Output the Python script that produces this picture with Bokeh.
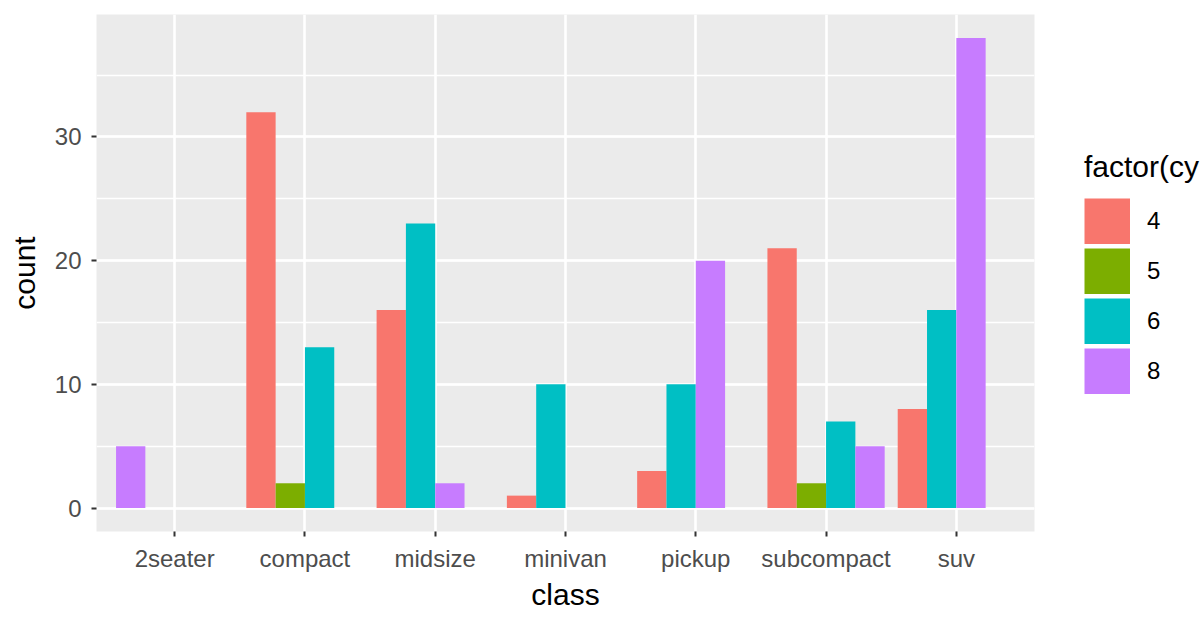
from bokeh.plotting import figure
from bokeh.models import (Range1d, FixedTicker, SingleIntervalTicker, ColumnDataSource,
                          Legend, LegendItem)
from bokeh.embed import file_html
from bokeh.resources import INLINE

# ---- data (ggplot2 mpg: count by class and cylinders) ----
classes = ["2seater", "compact", "midsize", "minivan", "pickup", "subcompact", "suv"]
cyl_levels = ["4", "5", "6", "8"]
count_4 = [0, 32, 16, 1, 3, 21, 8]
count_5 = [0, 2, 0, 0, 0, 2, 0]
count_6 = [0, 13, 23, 10, 10, 7, 16]
count_8 = [5, 0, 2, 0, 20, 5, 38]
colors = ["#F8766D", "#7CAE00", "#00BFC4", "#C77CFF"]
y_ticks = [0, 10, 20, 30]

series = [count_4, count_5, count_6, count_8]
n_groups = len(cyl_levels)
dodge_width = 0.9
bar_w = dodge_width / n_groups

# dodge (preserve = "single"): present groups fill slots from the left
xs = [[] for _ in range(n_groups)]
ys = [[] for _ in range(n_groups)]
for i, cl in enumerate(classes):
    slot = 0
    for j in range(n_groups):
        v = series[j][i]
        if v > 0:
            xs[j].append((i + 1) - dodge_width / 2 + bar_w * (slot + 0.5))
            ys[j].append(v)
            slot += 1

FONT = "Liberation Sans"
KEY = 46
NAN = float("nan")

p = figure(frame_width=938, frame_height=517,
           min_border_left=96, min_border_right=158, min_border_top=14, min_border_bottom=88,
           x_range=Range1d(0.4, len(classes) + 0.6), y_range=Range1d(-1.9, 39.9),
           output_backend="svg", toolbar_location=None)
p.background_fill_color = "#EBEBEB"
p.border_fill_color = "white"
p.outline_line_color = None

bar_renderers = []
key_renderers = []
for j in range(n_groups):
    src = ColumnDataSource(dict(x=xs[j], top=ys[j]))
    br = p.vbar(x="x", top="top", bottom=0, width=bar_w, source=src,
                fill_color=colors[j], line_color=None)
    bar_renderers.append(br)
    # legend key swatch: thick line with no visible points (drawn only in the legend)
    kr = p.line(x=[NAN, NAN], y=[NAN, NAN], line_color=colors[j],
                line_width=KEY, line_cap="butt")
    key_renderers.append(kr)

# grids
p.xaxis.ticker = FixedTicker(ticks=list(range(1, len(classes) + 1)))
p.xaxis.major_label_overrides = {i + 1: c for i, c in enumerate(classes)}
p.yaxis.ticker = FixedTicker(ticks=y_ticks)
p.xgrid.ticker = FixedTicker(ticks=list(range(1, len(classes) + 1)))
p.ygrid.ticker = SingleIntervalTicker(interval=10, num_minor_ticks=2)
for g in (p.xgrid, p.ygrid):
    g.grid_line_color = "white"
    g.grid_line_width = 2.6
p.ygrid.minor_grid_line_color = "white"
p.ygrid.minor_grid_line_width = 1.3

for ax in (p.xaxis, p.yaxis):
    ax.axis_line_color = None
    ax.major_tick_line_color = "#333333"
    ax.major_tick_line_width = 2
    ax.major_tick_out = 5
    ax.major_tick_in = 0
    ax.minor_tick_line_color = None
    ax.major_label_text_font = FONT
    ax.major_label_text_font_size = "24px"
    ax.major_label_text_color = "#4D4D4D"
    ax.axis_label_text_font = FONT
    ax.axis_label_text_font_size = "30px"
    ax.axis_label_text_font_style = "normal"
    ax.axis_label_text_color = "black"

p.xaxis.axis_label = "class"
p.xaxis.major_label_standoff = 8
p.xaxis.axis_label_standoff = 3
p.yaxis.axis_label = "count"
p.yaxis.major_label_standoff = 10
p.yaxis.axis_label_standoff = 11

legend = Legend(items=[LegendItem(label=cyl_levels[j],
                                  renderers=[bar_renderers[j], key_renderers[j]])
                       for j in range(n_groups)],
                title="factor(cyl)", location=(50, 137))
legend.title_text_font = FONT
legend.title_text_font_size = "30px"
legend.title_text_font_style = "normal"
legend.title_text_color = "black"
legend.title_standoff = 14
legend.label_text_font = FONT
legend.label_text_font_size = "24px"
legend.label_text_color = "black"
legend.glyph_width = KEY
legend.glyph_height = KEY
legend.spacing = 4
legend.label_standoff = 17
legend.padding = 0
legend.margin = 0
legend.border_line_color = None
legend.background_fill_alpha = 0
p.add_layout(legend, "right")

open("out.html", "w").write(file_html(p, INLINE))
